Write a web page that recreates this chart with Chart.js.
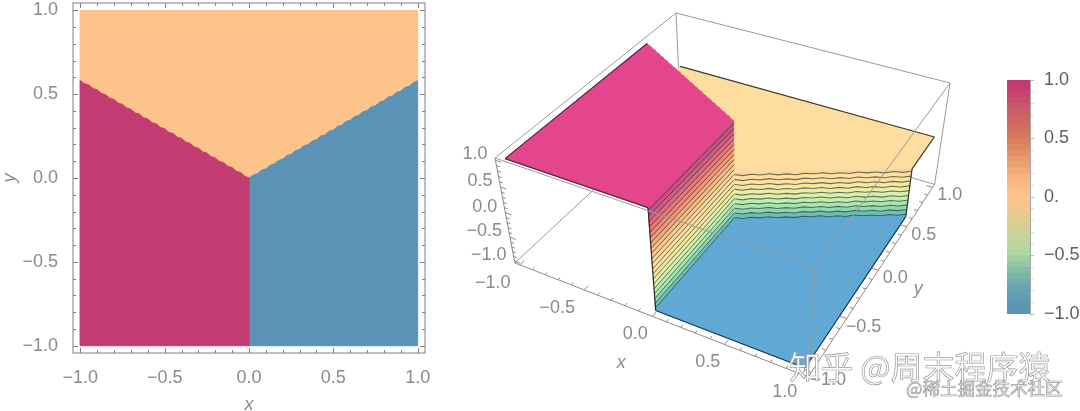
<!DOCTYPE html>
<html>
<head>
<meta charset="utf-8">
<title>Contour and surface plot</title>
<script src="https://cdn.jsdelivr.net/npm/chart.js@4"></script>
<style>
  html, body { margin: 0; padding: 0; background: #fff; }
  body { position: relative; width: 1080px; height: 411px; overflow: hidden; }
  canvas { position: absolute; top: 0; }
  #flat { left: 0; }
  #surface { left: 440px; }
  #bar { left: 1000px; }
  .mark {
    position: absolute;
    font-family: "Noto Sans CJK SC";
    color: #fff;
    white-space: nowrap;
    -webkit-text-stroke: 0.7px #9a9a9a;
  }
  #mark1 { left: 789px; top: 344px; font-size: 32px; line-height: 42px; }
  #mark2 { left: 906px; top: 376px; font-size: 17.5px; line-height: 24px; color: #f4f4f4; }
</style>
</head>
<body>
<canvas id="flat" width="440" height="411"></canvas>
<canvas id="surface" width="560" height="411"></canvas>
<canvas id="bar" width="80" height="411"></canvas>
<div class="mark" id="mark1">知乎 @周末程序猿</div>
<div class="mark" id="mark2">@稀土掘金技术社区</div>
<script>
const axisTicks = [-1, -0.9, -0.8, -0.7, -0.6, -0.5, -0.4, -0.3, -0.2, -0.1, 0, 0.1, 0.2, 0.3, 0.4, 0.5, 0.6, 0.7, 0.8, 0.9, 1];

// boundary between the regions
const leftEdgeX = [-1, -0.975, -0.95, -0.925, -0.9, -0.875, -0.85, -0.825, -0.8, -0.775, -0.75, -0.725, -0.7, -0.675, -0.65, -0.625, -0.6, -0.575, -0.55, -0.525, -0.5,
  -0.475, -0.45, -0.425, -0.4, -0.375, -0.35, -0.325, -0.3, -0.275, -0.25, -0.225, -0.2, -0.175, -0.15, -0.125, -0.1, -0.075, -0.05, -0.025, 0];
const leftEdgeY = [0.58, 0.562, 0.555, 0.533, 0.526, 0.504, 0.497, 0.475, 0.468, 0.446, 0.439, 0.417, 0.41, 0.388, 0.381, 0.359, 0.352, 0.33, 0.323, 0.301, 0.294,
  0.272, 0.265, 0.243, 0.236, 0.214, 0.207, 0.185, 0.178, 0.156, 0.149, 0.127, 0.12, 0.098, 0.091, 0.069, 0.062, 0.04, 0.033, 0.011, 0];
const rightEdgeX = [0, 0.025, 0.05, 0.075, 0.1, 0.125, 0.15, 0.175, 0.2, 0.225, 0.25, 0.275, 0.3, 0.325, 0.35, 0.375, 0.4, 0.425, 0.45, 0.475, 0.5,
  0.525, 0.55, 0.575, 0.6, 0.625, 0.65, 0.675, 0.7, 0.725, 0.75, 0.775, 0.8, 0.825, 0.85, 0.875, 0.9, 0.925, 0.95, 0.975, 1];
const rightEdgeY = [0, 0.018, 0.025, 0.047, 0.054, 0.076, 0.083, 0.105, 0.112, 0.134, 0.141, 0.163, 0.17, 0.192, 0.199, 0.221, 0.228, 0.25, 0.257, 0.279, 0.286,
  0.308, 0.315, 0.337, 0.344, 0.366, 0.373, 0.395, 0.402, 0.424, 0.431, 0.453, 0.46, 0.482, 0.489, 0.511, 0.518, 0.54, 0.547, 0.569, 0.58];
const ripple = [0.007, -0.014, 0.011, -0.006, 0.015, -0.011, 0.004, -0.015, 0.011, -0.004, 0.013, -0.011, 0.007, -0.013, 0.015, -0.006, 0.009, -0.013, 0.011, -0.009, 0.004];

const wallEdges = [-1, -0.95, -0.85, -0.75, -0.65, -0.55, -0.45, -0.35, -0.25, -0.15, -0.05, 0.05, 0.15, 0.25, 0.35, 0.45, 0.55, 0.65, 0.75, 0.85, 0.95, 1];
const wallColors = ['#5aaec4', '#6cbfb8', '#8cd8b4', '#a8e6b0', '#c2eeb0', '#d8f0aa', '#eaeea4', '#f6e8a0', '#fbe39e', '#fddfa0',
  '#fdd596', '#fcca8c', '#fabb84', '#f8aa7c', '#f59876', '#f18874', '#ea7878', '#dd6a7e', '#d05e82', '#c65484', '#d04880'];
const barEdges = [-0.95, -0.9, -0.85, -0.8, -0.75, -0.7, -0.65, -0.6, -0.55, -0.5, -0.45, -0.4, -0.35, -0.3, -0.25, -0.2, -0.15, -0.1, -0.05, 0,
  0.05, 0.1, 0.15, 0.2, 0.25, 0.3, 0.35, 0.4, 0.45, 0.5, 0.55, 0.6, 0.65, 0.7, 0.75, 0.8, 0.85, 0.9, 0.95, 1];
const barColors = ['#5b94b6', '#5d97b5', '#5f9bb4', '#63a0b1', '#68a6af', '#70adac', '#78b5a9', '#85bea6', '#94c8a3', '#a1cfa1',
  '#aed6a0', '#b8d69e', '#c2d59c', '#cbd39a', '#d3d097', '#dbce94', '#e4cb92', '#ecc990', '#f4c78e', '#f8c58c',
  '#fbc28a', '#fabe87', '#f8b983', '#f5b27e', '#f1ab79', '#eca374', '#e69a6e', '#e19169', '#dc8863', '#d8805f',
  '#d5785c', '#d2715e', '#cf6a60', '#cd6464', '#cb5e67', '#c9576b', '#c74f6e', '#c54771', '#c33f73', '#c23a74'];
const barTickLabels = ['−1.0', '−0.5', '0.', '0.5', '1.0'];
const barTickValues = [-1, -0.5, 0, 0.5, 1];

const crimson = '#c23c72';
const steel = '#5b93b7';
const peach = '#fcc38b';
const surfacePink = '#e3468a';
const surfaceYellow = '#fddea0';
const surfaceBlue = '#62a8d6';
const tickGrey = '#8a8a8a';
const boxGrey = '#9a9a9a';
const contourInk = 'rgba(40, 50, 50, 0.68)';

Chart.defaults.font.family = '"Liberation Sans"';
Chart.defaults.font.size = 18;
Chart.defaults.color = tickGrey;
Chart.defaults.animation = false;
Chart.defaults.responsive = false;
Chart.defaults.plugins.legend.display = false;
Chart.defaults.plugins.tooltip.enabled = false;

const isMajor = v => Math.abs(v * 2 - Math.round(v * 2)) < 1e-6;
const fmt = v => v.toFixed(1).replace('-', '−');
const zip = (xs, ys) => xs.map((x, i) => ({x, y: ys[i]}));

function area(points, color) {
  return {
    data: points,
    showLine: true,
    fill: 'shape',
    backgroundColor: color,
    borderColor: color,
    borderWidth: 1,
    pointRadius: 0
  };
}

function stroke(points, color, width = 1) {
  return {
    data: points,
    showLine: true,
    fill: false,
    borderColor: color,
    borderWidth: width,
    pointRadius: 0
  };
}

/* left plot */
const leftEdge = zip(leftEdgeX, leftEdgeY);
const rightEdge = zip(rightEdgeX, rightEdgeY);

const pinkRegion = [{x: -1, y: -1}, {x: 0, y: -1}, {x: 0, y: 0}, ...[...leftEdge].reverse(), {x: -1, y: -1}];
const blueRegion = [{x: 0, y: -1}, {x: 1, y: -1}, ...[...rightEdge].reverse(), {x: 0, y: -1}];
const orangeRegion = [...leftEdge, ...rightEdge, {x: 1, y: 1}, {x: -1, y: 1}, leftEdge[0]];

const frameTicks = {
  id: 'frameTicks',
  afterDraw(chart) {
    const {ctx, chartArea: a, scales: {x, y}} = chart;
    ctx.save();
    ctx.strokeStyle = '#808080';
    ctx.lineWidth = 1;
    ctx.strokeRect(a.left, a.top, a.right - a.left, a.bottom - a.top);
    ctx.beginPath();
    for (const v of axisTicks) {
      const len = isMajor(v) ? 5 : 3;
      const px = Math.round(x.getPixelForValue(v)) + 0.5;
      const py = Math.round(y.getPixelForValue(v)) + 0.5;
      ctx.moveTo(px, a.bottom); ctx.lineTo(px, a.bottom - len);
      ctx.moveTo(px, a.top); ctx.lineTo(px, a.top + len);
      ctx.moveTo(a.left, py); ctx.lineTo(a.left + len, py);
      ctx.moveTo(a.right, py); ctx.lineTo(a.right - len, py);
    }
    ctx.stroke();
    ctx.restore();
  }
};

const setTicks = scale => {
  scale.ticks = axisTicks.map(value => ({value}));
};
const axisTitle = {weight: 'normal', style: 'italic', size: 18};

new Chart(document.getElementById('flat'), {
  type: 'scatter',
  data: {
    datasets: [area(pinkRegion, crimson), area(blueRegion, steel), area(orangeRegion, peach)]
  },
  options: {
    layout: {padding: {top: 3, right: 15}},
    scales: {
      x: {
        min: -1.0435,
        max: 1.0435,
        grid: {display: false},
        border: {display: false},
        afterBuildTicks: setTicks,
        afterFit: s => { s.height = 58; },
        ticks: {
          autoSkip: false,
          maxRotation: 0,
          padding: 6,
          callback: v => isMajor(v) ? fmt(v) : ''
        },
        title: {display: true, text: 'x', font: axisTitle, color: tickGrey, padding: {bottom: -5, top: 0}}
      },
      y: {
        min: -1.0435,
        max: 1.0435,
        grid: {display: false},
        border: {display: false},
        afterBuildTicks: setTicks,
        afterFit: s => {
          s.width = 73;
          s.paddingTop = 0;
          s.paddingBottom = 0;
        },
        ticks: {
          autoSkip: false,
          padding: 7,
          callback: v => isMajor(v) ? fmt(v) : ''
        },
        title: {display: true, text: 'y', font: axisTitle, color: tickGrey, padding: {top: -1, bottom: 0}}
      }
    }
  },
  plugins: [frameTicks]
});

/* 3D plot: a fitted projective camera takes data coordinates to page coordinates */
const BOX = 1.04;
const camU = [215.1, 337.4, 65, 495];
const camV = [75.5, -142, 128, 158];
const camW = [-0.1287, 0.2313, 0.0877, 1];

function project(x, y, z) {
  const s = (x + BOX) / (2 * BOX);
  const t = (y + BOX) / (2 * BOX);
  const d = (BOX - z) / (2 * BOX);
  const apply = c => c[0] * s + c[1] * t + c[2] * d + c[3];
  const w = apply(camW);
  return {x: apply(camU) / w, y: apply(camV) / w};
}

const at = (pts, z) => pts.map(p => project(p.x, p.y, z));
const seg = (a, b) => [project(...a), project(...b)];

// contour polyline along the wall between the top and bottom regions
const wallPath = rightEdge.filter((p, i) => i % 2 === 0);
const wavy = level => wallPath.map((p, i) => project(p.x, p.y, level + (level > -1 && level < 0 ? ripple[i] : 0)));

const layers = [];

// back of the box
layers.push(stroke(seg([-BOX, BOX, BOX], [BOX, BOX, BOX]), boxGrey));
layers.push(stroke(seg([-BOX, -BOX, BOX], [-BOX, BOX, BOX]), boxGrey));
layers.push(stroke(seg([-BOX, BOX, BOX], [-BOX, BOX, -BOX]), boxGrey));
layers.push(stroke(seg([BOX, BOX, BOX], [BOX, BOX, -BOX]), boxGrey));
layers.push(stroke(seg([-BOX, -BOX, -BOX], [-BOX, BOX, -BOX]), boxGrey));
layers.push(stroke(seg([-BOX, BOX, -BOX], [BOX, BOX, -BOX]), boxGrey));

// yellow plateau
const yellowTop = [...at([{x: -1, y: 1}, {x: 1, y: 1}], 0), ...at([...rightEdge].reverse(), 0), project(-1, 0.58, 0)];
layers.push(area([...yellowTop, yellowTop[0]], surfaceYellow));

// wall under the plateau
for (let i = 0; i <= 10; i++) {
  const low = wavy(wallEdges[i]);
  const high = wavy(Math.min(wallEdges[i + 1], 0));
  layers.push(area([...low, ...[...high].reverse(), low[0]], wallColors[i]));
}
for (let i = 1; i <= 10; i++) {
  layers.push(stroke(wavy(wallEdges[i]), contourInk, 1.1));
}

// blue floor
const blueFloor = [project(0, -1, -1), project(1, -1, -1), ...at([...rightEdge].reverse(), -1)];
layers.push(area([...blueFloor, blueFloor[0]], surfaceBlue));

// wall along x = 0
for (let i = 0; i <= 20; i++) {
  const lo = wallEdges[i];
  const hi = wallEdges[i + 1];
  layers.push(area([project(0, -1, lo), project(0, 0, lo), project(0, 0, hi), project(0, -1, hi), project(0, -1, lo)], wallColors[i]));
}
for (let i = 1; i <= 20; i++) {
  layers.push(stroke(seg([0, -1, wallEdges[i]], [0, 0, wallEdges[i]]), contourInk, 1));
}

// pink plateau
const pinkTop = [project(-1, -1, 1), project(0, -1, 1), ...at([{x: 0, y: 0}, ...[...leftEdge].reverse()], 1)];
layers.push(area([...pinkTop, pinkTop[0]], surfacePink));

// dark surface edges
layers.push(stroke(seg([-1, 0.58, 1], [-1, -1, 1]), '#5e2445', 1.2));
layers.push(stroke(seg([-1, -1, 1], [0, -1, 1]), '#5e2445', 1.2));
layers.push(stroke(seg([0, -1, 1], [0, -1, -1]), '#2b2b2b', 1.2));
layers.push(stroke(seg([0, -1, -1], [1, -1, -1]), '#1d3a52', 1.2));
layers.push(stroke(seg([1, -1, -1], [1, 0.58, -1]), '#1d3a52', 1.2));
layers.push(stroke(seg([1, 0.58, -1], [1, 0.58, 0]), '#3a3a2a', 1.2));
layers.push(stroke(seg([1, 0.58, 0], [1, 1, 0]), '#3a3a2a', 1.2));
layers.push(stroke(seg([1, 1, 0], [-1, 1, 0]), '#3a3a2a', 1.2));

// front of the box
layers.push(stroke(seg([-BOX, -BOX, BOX], [BOX, -BOX, BOX]), boxGrey));
layers.push(stroke(seg([BOX, -BOX, BOX], [BOX, BOX, BOX]), boxGrey));
layers.push(stroke(seg([BOX, -BOX, BOX], [BOX, -BOX, -BOX]), boxGrey));

// axes and their ticks
layers.push(stroke(seg([-BOX, -BOX, BOX], [-BOX, -BOX, -BOX]), '#8a8a8a'));
layers.push(stroke(seg([-BOX, -BOX, -BOX], [BOX, -BOX, -BOX]), '#8a8a8a'));
layers.push(stroke(seg([BOX, -BOX, -BOX], [BOX, BOX, -BOX]), '#8a8a8a'));
for (const v of axisTicks) {
  const len = isMajor(v) ? 0.045 : 0.025;
  layers.push(stroke(seg([v, -BOX, -BOX], [v, -BOX + len, -BOX]), '#8a8a8a'));
  layers.push(stroke(seg([BOX, v, -BOX], [BOX - len, v, -BOX]), '#8a8a8a'));
  layers.push(stroke(seg([-BOX, -BOX, v], [-BOX + len, -BOX, v]), '#8a8a8a'));
}

const surfaceLabels = {
  id: 'surfaceLabels',
  afterDraw(chart) {
    const {ctx, scales: {x, y}} = chart;
    const put = (p, dx, dy, text, align = 'center') => {
      ctx.textAlign = align;
      ctx.fillText(text, x.getPixelForValue(p.x) + dx, y.getPixelForValue(p.y) + dy);
    };
    ctx.save();
    ctx.font = '18px "Liberation Sans"';
    ctx.fillStyle = tickGrey;
    ctx.textBaseline = 'middle';
    for (const v of barTickValues) {
      put(project(-BOX, -BOX, v), -8, -6, fmt(v), 'right');
      put(project(v, -BOX, -BOX), v < 0 ? -27 : -17, 18, fmt(v));
      put(project(BOX, v, -BOX), 17, 8, fmt(v));
    }
    ctx.font = 'italic 18px "Liberation Sans"';
    put(project(0.05, -BOX, -BOX), -38, 44, 'x');
    put(project(BOX, 0.05, -BOX), 37, 23, 'y');
    ctx.restore();
  }
};

new Chart(document.getElementById('surface'), {
  type: 'scatter',
  data: {datasets: layers.reverse()},
  options: {
    layout: {padding: 0},
    scales: {
      x: {display: false, min: 440, max: 1000},
      y: {display: false, min: 0, max: 411, reverse: true}
    }
  },
  plugins: [surfaceLabels]
});

/* colour bar: every bar runs up from the base, the lowest one is painted last */
const barSets = barColors.map((color, i) => ({
  data: [[-1, barEdges[i]]],
  backgroundColor: color,
  borderWidth: 0,
  barPercentage: 1,
  categoryPercentage: 1,
  grouped: false
}));

new Chart(document.getElementById('bar'), {
  type: 'bar',
  data: {labels: ['value'], datasets: barSets},
  options: {
    layout: {padding: {left: 7, top: 80, bottom: 97}},
    scales: {
      x: {display: false},
      y: {
        position: 'right',
        min: -1,
        max: 1,
        afterBuildTicks: setTicks,
        afterFit: s => { s.width = 50; },
        border: {display: true, color: '#a8a8a8'},
        grid: {
          drawOnChartArea: false,
          tickLength: 4,
          tickColor: c => isMajor(c.tick.value) ? '#b5b5b5' : '#d6d6d6'
        },
        ticks: {
          autoSkip: false,
          padding: 10,
          color: '#5e5e5e',
          callback: v => {
            const k = barTickValues.findIndex(t => Math.abs(t - v) < 1e-6);
            return k < 0 ? '' : barTickLabels[k];
          }
        }
      }
    }
  }
});
</script>
</body>
</html>
